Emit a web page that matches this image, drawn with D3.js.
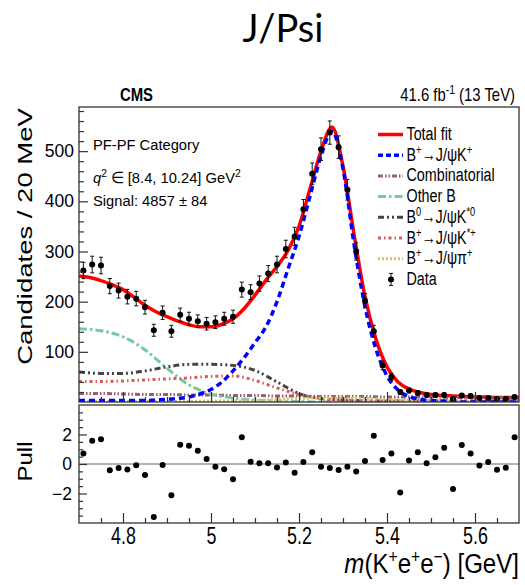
<!DOCTYPE html>
<html>
<head>
<meta charset="utf-8">
<script src="https://cdn.jsdelivr.net/npm/d3@7"></script>
<style>
  body { margin: 0; background: #fff; }
  svg { display: block; }
  text { font-family: 'Liberation Sans', Arial, sans-serif; fill: #000; }
</style>
</head>
<body>
<div id="chart"></div>
<script>
// bin centres (20 MeV bins)
const massBins = [4.71, 4.73, 4.75, 4.77, 4.79, 4.81, 4.83, 4.85, 4.87, 4.89,
  4.91, 4.93, 4.95, 4.97, 4.99, 5.01, 5.03, 5.05, 5.07, 5.09,
  5.11, 5.13, 5.15, 5.17, 5.19, 5.21, 5.23, 5.25, 5.27, 5.29,
  5.31, 5.33, 5.35, 5.37, 5.39, 5.41, 5.43, 5.45, 5.47, 5.49,
  5.51, 5.53, 5.55, 5.57, 5.59, 5.61, 5.63, 5.65, 5.67, 5.69]
const counts = [262, 274, 272, 231, 222, 210, 206, 189, 143, 178,
  141, 174, 166, 161, 156, 159, 166, 170, 224, 219,
  236, 256, 274, 305, 330, 384, 455, 504, 537, 508,
  423, 300, 202, 141, 73, 50, 20, 23, 18, 14,
  14, 14, 6, 13, 12, 8, 8, 6, 6, 10]
const pulls = [0.72, 1.58, 1.67, -0.43, -0.27, -0.38, -0.09, -0.75, -3.6, -0.07,
  -2.12, 1.31, 1.24, 0.9, 0.34, -0.18, -0.36, -1.04, 1.81, 0.16,
  0.05, 0.05, -0.23, 0.1, -0.59, 0.14, 0.79, -0.18, -0.27, -0.41,
  -0.18, -0.5, 0.2, 1.92, 0.27, 0.72, -1.94, 0.23, 0.79, 0.05,
  0.45, 1.1, -1.7, 1.29, 0.72, -0.11, 0.14, -0.39, -0.25, 1.81]

// fit curves
const fitMass = [4.700, 4.725, 4.750, 4.775, 4.800, 4.825, 4.850, 4.875, 4.900, 4.925,
  4.950, 4.975, 5.000, 5.025, 5.050, 5.075, 5.100, 5.125, 5.150, 5.175,
  5.200, 5.225, 5.250, 5.275, 5.300, 5.325, 5.350, 5.375, 5.400, 5.425,
  5.450, 5.475, 5.500, 5.525, 5.550, 5.575, 5.600, 5.625, 5.650, 5.675, 5.700]
const totalFit = [251, 248, 242, 234, 224, 209, 193, 180, 170, 161,
  154, 150, 150, 155, 166, 186, 213, 243, 270, 302,
  350, 425, 500, 548, 470, 335, 210, 125, 70, 40,
  26, 19, 15, 13, 12, 11, 10, 10, 9, 9, 9]
const signalFit = [3, 3, 3, 3, 3, 3, 3, 4, 5, 7,
  10, 16, 25, 40, 62, 88, 118, 150, 200, 265,
  330, 410, 490, 540, 465, 315, 190, 105, 52, 24,
  11, 5, 3, 2, 1, 0, 0, 0, 0, 0, 0]

const bkgMass = [4.70, 4.75, 4.80, 4.85, 4.90, 4.95, 5.00, 5.05, 5.10, 5.15, 5.20,
  5.25, 5.30, 5.35, 5.40, 5.45, 5.50, 5.55, 5.60, 5.65, 5.70]
const combinatorial = [17, 17, 16, 15, 15, 14, 14, 13, 13, 12, 12, 11, 11, 11, 10, 10, 10, 9, 9, 9, 8]
const otherB = [146, 142, 130, 104, 67, 34, 16, 8, 4, 2, 1, 0, 0, 0, 0, 0, 0, 0, 0, 0, 0]
const bzKstar = [60, 57, 57, 62, 70, 75, 75, 73, 63, 40, 17, 7, 4, 3, 2, 2, 2, 2, 2, 2, 2]
const bpKstar = [41, 41, 42, 44, 46, 48, 51, 52, 43, 28, 15, 7, 4, 3, 2, 2, 2, 2, 2, 2, 2]
const bpPi = [1, 1, 1, 1, 1, 1, 2, 2, 3, 5, 7, 8, 8, 7, 5, 3, 2, 1, 1, 1, 1]

const yTicks = [100, 200, 300, 400, 500]
const pullTicks = [-2, 0, 2]
const xTicks = [4.8, 5.0, 5.2, 5.4, 5.6]

const width = 525
const height = 585
const plot = { left: 79, right: 519, top: 107, bottom: 402 }
const pullBox = { top: 405, bottom: 523 }

const svg = d3
  .select('#chart')
  .append('svg')
  .attr('width', width)
  .attr('height', height)

const x = d3.scaleLinear().domain([4.7, 5.7]).range([plot.left, plot.right])
const y = d3.scaleLinear().domain([0, 588]).range([plot.bottom, plot.top])
const yPull = d3.scaleLinear().domain([-4, 4]).range([pullBox.bottom, pullBox.top])

// title
svg
  .append('text')
  .attr('x', 283)
  .attr('y', 42)
  .attr('text-anchor', 'middle')
  .style('font-family', 'Lato, sans-serif')
  .style('font-size', '38px')
  .text('J/Psi')

// helper for horizontally squeezed text
function label(px, py, sx, size, anchor) {
  return svg
    .append('g')
    .attr('transform', `translate(${px},${py}) scale(${sx},1)`)
    .append('text')
    .attr('text-anchor', anchor || 'start')
    .style('font-size', size + 'px')
}

label(120, 101, 0.8, 18.6).style('font-weight', 700).text('CMS')
const lumi = label(515, 101, 0.8, 18.6, 'end')
lumi.append('tspan').text('41.6 fb')
lumi.append('tspan').attr('baseline-shift', 'super').style('font-size', '70%').text('-1')
lumi.append('tspan').text(' (13 TeV)')

// clip for curves
svg
  .append('clipPath')
  .attr('id', 'clip')
  .append('rect')
  .attr('x', plot.left)
  .attr('y', plot.top)
  .attr('width', plot.right - plot.left)
  .attr('height', plot.bottom - plot.top)

const curves = svg.append('g').attr('clip-path', 'url(#clip)')

const comps = [
  { mass: bkgMass, vals: combinatorial, color: '#946070', dash: '5,2,1.5,2,1.5,2', w: 3 },
  { mass: bkgMass, vals: otherB, color: '#7cc7a0', dash: '8,3,2.5,3', w: 3 },
  { mass: bkgMass, vals: bzKstar, color: '#444', dash: '6,3,2,3,2,3', w: 3 },
  { mass: bkgMass, vals: bpKstar, color: '#d85c5c', dash: '3,3,1.5,3', w: 3 },
  { mass: bkgMass, vals: bpPi, color: '#d4c470', dash: '2,2', w: 3 }
]

const line = d3
  .line()
  .x(d => x(d[0]))
  .y(d => y(d[1]))
  .curve(d3.curveMonotoneX)

curves
  .append('path')
  .datum(d3.zip(fitMass, totalFit))
  .attr('d', line)
  .attr('fill', 'none')
  .attr('stroke', '#ff0000')
  .attr('stroke-width', 3.5)

comps.forEach(c => {
  curves
    .append('path')
    .datum(d3.zip(c.mass, c.vals))
    .attr('d', line)
    .attr('fill', 'none')
    .attr('stroke', c.color)
    .attr('stroke-width', c.w)
    .attr('stroke-dasharray', c.dash)
})

curves
  .append('path')
  .datum(d3.zip(fitMass, signalFit))
  .attr('d', line)
  .attr('fill', 'none')
  .attr('stroke', '#0000ff')
  .attr('stroke-width', 3.5)
  .attr('stroke-dasharray', '6,4')

// data points with sqrt(N) errors
const pts = svg.append('g')
massBins.forEach((m, i) => {
  const n = counts[i]
  const e = Math.sqrt(n)
  const g = pts.append('g').attr('stroke', '#111').attr('stroke-width', 1)
  g.append('line').attr('x1', x(m)).attr('x2', x(m)).attr('y1', y(n - e)).attr('y2', y(n + e))
  g.append('line').attr('x1', x(m) - 2).attr('x2', x(m) + 2).attr('y1', y(n - e)).attr('y2', y(n - e))
  g.append('line').attr('x1', x(m) - 2).attr('x2', x(m) + 2).attr('y1', y(n + e)).attr('y2', y(n + e))
})
pts
  .selectAll('circle')
  .data(massBins)
  .join('circle')
  .attr('cx', d => x(d))
  .attr('cy', (d, i) => y(counts[i]))
  .attr('r', 3)
  .attr('fill', '#000')

// pull points
svg
  .append('line')
  .attr('x1', plot.left)
  .attr('x2', plot.right)
  .attr('y1', yPull(0))
  .attr('y2', yPull(0))
  .attr('stroke', '#666')
  .attr('stroke-width', 1)

svg
  .append('g')
  .selectAll('circle')
  .data(massBins)
  .join('circle')
  .attr('cx', d => x(d))
  .attr('cy', (d, i) => yPull(pulls[i]))
  .attr('r', 3)
  .attr('fill', '#000')

// frames
;[[plot.top, plot.bottom], [pullBox.top, pullBox.bottom]].forEach(([t, b]) => {
  svg
    .append('rect')
    .attr('x', plot.left)
    .attr('y', t)
    .attr('width', plot.right - plot.left)
    .attr('height', b - t)
    .attr('fill', 'none')
    .attr('stroke', '#333')
    .attr('stroke-width', 1.3)
})

// axes, ticks inside
function styleAxis(g) {
  g.select('.domain').remove()
  g.selectAll('.tick line').attr('stroke', '#333').attr('stroke-width', 1.2)
}

const minorY = d3.range(20, 588, 20).filter(v => v % 100 !== 0)
svg
  .append('g')
  .attr('transform', `translate(${plot.left},0)`)
  .call(d3.axisLeft(y).tickValues(minorY).tickSize(-5).tickFormat(''))
  .call(styleAxis)
svg
  .append('g')
  .attr('transform', `translate(${plot.left},0)`)
  .call(d3.axisLeft(y).tickValues(yTicks).tickSize(-9).tickPadding(5))
  .call(styleAxis)
  .selectAll('text')
  .style('font-size', '17.5px')
  .style('font-family', "'Liberation Sans', Arial, sans-serif")

const minorPull = [-3.5, -3, -2.5, -1.5, -1, -0.5, 0.5, 1, 1.5, 2.5, 3, 3.5]
svg
  .append('g')
  .attr('transform', `translate(${plot.left},0)`)
  .call(d3.axisLeft(yPull).tickValues(minorPull).tickSize(-4).tickFormat(''))
  .call(styleAxis)
svg
  .append('g')
  .attr('transform', `translate(${plot.left},0)`)
  .call(d3.axisLeft(yPull).tickValues(pullTicks).tickSize(-8).tickPadding(7).tickFormat(d => (d < 0 ? '\u2212' : '') + Math.abs(d)))
  .call(styleAxis)
  .selectAll('text')
  .style('font-size', '17.5px')
  .style('font-family', "'Liberation Sans', Arial, sans-serif")

const minorX = [4.75, 4.85, 4.9, 4.95, 5.05, 5.1, 5.15, 5.25, 5.3, 5.35, 5.45, 5.5, 5.55, 5.65]
;[plot.bottom, pullBox.bottom].forEach((yb, k) => {
  svg
    .append('g')
    .attr('transform', `translate(0,${yb})`)
    .call(d3.axisBottom(x).tickValues(minorX).tickSize(-5).tickFormat(''))
    .call(styleAxis)
  const ax = svg
    .append('g')
    .attr('transform', `translate(0,${yb})`)
    .call(d3.axisBottom(x).tickValues(xTicks).tickSize(-10).tickPadding(4).tickFormat(k ? d3.format('~g') : ''))
    .call(styleAxis)
  ax.selectAll('text')
    .style('font-size', '24.5px')
    .style('font-family', "'Liberation Sans', Arial, sans-serif")
    .attr('transform', 'scale(0.73,1)')
})

// axis titles
svg
  .append('g')
  .attr('transform', 'translate(31.5,236.5) scale(0.76,1) rotate(-90)')
  .append('text')
  .attr('text-anchor', 'middle')
  .style('font-size', '27.5px')
  .text('Candidates / 20 MeV')

svg
  .append('g')
  .attr('transform', 'translate(31.5,461.5) scale(0.87,1) rotate(-90)')
  .append('text')
  .attr('text-anchor', 'middle')
  .style('font-size', '24px')
  .text('Pull')

const xt = label(519, 573, 0.86, 28, 'end')
xt.append('tspan').style('font-style', 'italic').text('m')
xt.append('tspan').text('(K')
xt.append('tspan').attr('baseline-shift', 'super').style('font-size', '65%').text('+')
xt.append('tspan').text('e')
xt.append('tspan').attr('baseline-shift', 'super').style('font-size', '65%').text('+')
xt.append('tspan').text('e')
xt.append('tspan').attr('baseline-shift', 'super').style('font-size', '65%').text('\u2212')
xt.append('tspan').text(') [GeV]')

// info text
label(93, 149.5, 0.95, 15.5).text('PF-PF Category')
const q2 = label(93, 183, 0.95, 15.5)
q2.append('tspan').style('font-style', 'italic').text('q')
q2.append('tspan').attr('baseline-shift', 'super').style('font-size', '70%').text('2')
q2.append('tspan').text(' \u2208 [8.4, 10.24] GeV')
q2.append('tspan').attr('baseline-shift', 'super').style('font-size', '70%').text('2')
label(93, 206, 0.95, 15.5).text('Signal: 4857 \u00b1 84')

// legend
const legendRows = [
  { parts: [['Total fit']], color: '#ff0000', dash: null, w: 3.5 },
  { parts: [['B'], ['+', 1], ['\u2192J/\u03c8K'], ['+', 1]], color: '#0000ff', dash: '5,3', w: 3.5 },
  { parts: [['Combinatorial']], color: '#946070', dash: '5,2,1.5,2,1.5,2', w: 3 },
  { parts: [['Other B']], color: '#7cc7a0', dash: '8,3,2.5,3', w: 3 },
  { parts: [['B'], ['0', 1], ['\u2192J/\u03c8K'], ['*0', 1]], color: '#444', dash: '6,3,2,3,2,3', w: 3 },
  { parts: [['B'], ['+', 1], ['\u2192J/\u03c8K'], ['*+', 1]], color: '#d85c5c', dash: '3,3,1.5,3', w: 3 },
  { parts: [['B'], ['+', 1], ['\u2192J/\u03c8\u03c0'], ['+', 1]], color: '#d4c470', dash: '2,2', w: 3 },
  { parts: [['Data']], data: true }
]

legendRows.forEach((row, i) => {
  const by = 140 + i * 20.7
  const cy = by - 5.5
  if (row.data) {
    svg.append('line').attr('x1', 391).attr('x2', 391).attr('y1', cy - 6).attr('y2', cy + 6).attr('stroke', '#111')
    svg.append('line').attr('x1', 389).attr('x2', 393).attr('y1', cy - 6).attr('y2', cy - 6).attr('stroke', '#111')
    svg.append('line').attr('x1', 389).attr('x2', 393).attr('y1', cy + 6).attr('y2', cy + 6).attr('stroke', '#111')
    svg.append('circle').attr('cx', 391).attr('cy', cy).attr('r', 3).attr('fill', '#000')
  } else {
    svg
      .append('line')
      .attr('x1', 378)
      .attr('x2', 403)
      .attr('y1', cy)
      .attr('y2', cy)
      .attr('stroke', row.color)
      .attr('stroke-width', row.w)
      .attr('stroke-dasharray', row.dash)
  }
  const t = label(406.5, by, 0.77, 18.6)
  row.parts.forEach(p => {
    const s = t.append('tspan').text(p[0])
    if (p[1]) s.attr('baseline-shift', 'super').style('font-size', '65%')
  })
})
</script>
</body>
</html>
